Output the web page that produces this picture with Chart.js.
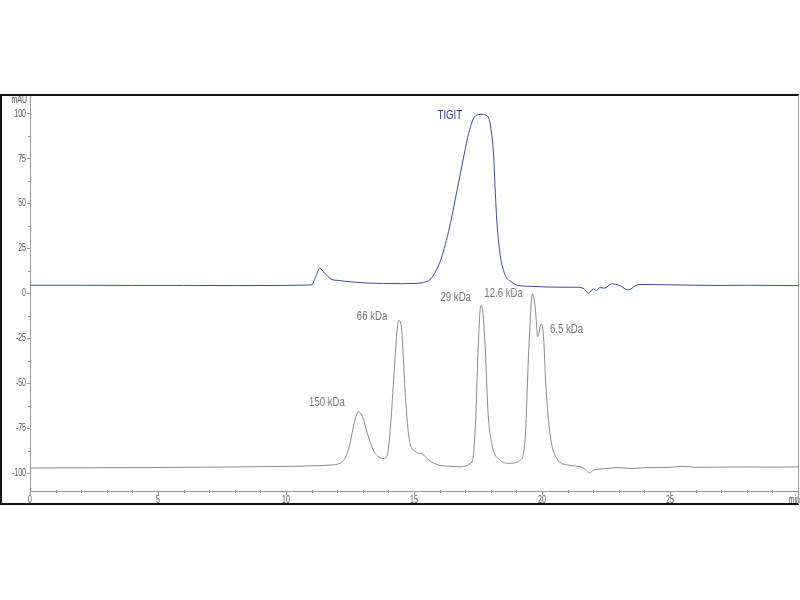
<!DOCTYPE html>
<html>
<head>
<meta charset="utf-8">
<script src="https://cdn.jsdelivr.net/npm/chart.js@4/dist/chart.umd.min.js"></script>
<style>
  body { margin: 0; background: #fff; }
  #wrap { width: 800px; height: 600px; }
</style>
</head>
<body>
<div id="wrap"><canvas id="chart" width="800" height="600"></canvas></div>
<script>
// retention time (min) and absorbance (mAU)
const tigitTimes = [0, 2, 4, 6, 8, 10, 10.8, 11.0, 11.15, 11.32, 11.5, 11.75, 12.08, 12.6, 13.2, 13.8, 14.5, 15.0, 15.32, 15.71, 16.10, 16.43, 16.69, 16.95, 17.14, 17.40, 17.66, 17.86, 17.99, 18.11, 18.17, 18.24, 18.37, 18.57, 18.8, 19.09, 19.6, 20.2, 20.8, 21.3, 21.6, 21.82, 22.0, 22.13, 22.26, 22.45, 22.72, 23.04, 23.37, 23.76, 24.1, 25, 26, 27, 28, 29, 30];
const tigitValues = [4.6, 4.6, 4.5, 4.5, 4.4, 4.5, 4.7, 4.8, 9, 14, 11.5, 8.1, 7.2, 6.4, 5.8, 5.6, 5.5, 5.6, 6, 9.1, 21.1, 39.6, 58.1, 76.7, 89.6, 98.9, 99.8, 98.9, 93.3, 76.7, 58.3, 39.6, 21.1, 10, 6.5, 4.4, 4.0, 3.6, 3.5, 3.5, 3, 0.2, 2.6, 1.7, 3.3, 3.0, 5.4, 4.4, 2, 5, 5, 4.8, 4.6, 4.5, 4.6, 4.5, 4.4];

const markerTimes = [0, 2, 4, 6, 8, 10, 11, 11.69, 12.2, 12.47, 12.66, 12.83, 12.99, 13.18, 13.44, 13.83, 13.96, 14.09, 14.22, 14.35, 14.41, 14.52, 14.65, 14.80, 15.06, 15.32, 15.58, 15.97, 16.4, 16.75, 17.27, 17.40, 17.50, 17.61, 17.69, 17.79, 17.89, 18.05, 18.37, 18.70, 19.15, 19.35, 19.48, 19.63, 19.74, 19.83, 19.97, 20.06, 20.15, 20.32, 20.58, 21.04, 21.5, 21.7, 21.85, 22.0, 22.5, 23, 23.5, 24, 25, 25.5, 26, 27, 28, 29, 30];
const markerValues = [-97.2, -97.1, -97, -96.8, -96.6, -96.3, -96, -95.6, -93.7, -85.4, -72.4, -65.9, -68.7, -78, -88, -91.9, -90, -72.4, -44.6, -18.7, -15, -20.6, -53.9, -79.8, -88.1, -89.4, -92.8, -95.6, -96.2, -96.5, -93.7, -73.3, -32.6, -6.7, -10.4, -32.6, -65.9, -84.4, -92.8, -94.6, -92.8, -78.9, -32.6, -0.2, -8.5, -24, -17, -24, -51.1, -78.9, -91.9, -95.6, -96.5, -98, -100, -98.5, -97.5, -97, -97.5, -97, -96.8, -96.3, -96.8, -96.7, -96.6, -96.7, -96.6];

const yTicks = [-100, -75, -50, -25, 0, 25, 50, 75, 100];
const xTicks = [0, 5, 10, 15, 20, 25];

// peak labels: text, label centre in (min, mAU)
const labelTexts = ['TIGIT', '150 kDa', '66 kDa', '29 kDa', '12.6 kDa', '6.5 kDa'];
const labelTimes = [16.4, 11.6, 13.36, 16.63, 18.5, 20.96];
const labelValues = [99, -60.5, -12.8, -2.2, 0, -20];

const axisGray = '#9a9a9a';

function toPoints(xs, ys) {
    return xs.map((x, i) => ({ x: x, y: ys[i] }));
}

// narrow text, like the condensed font of the instrument software
function narrowText(ctx, txt, x, y, align, squeeze) {
    ctx.save();
    ctx.translate(x, y);
    ctx.scale(squeeze, 1);
    ctx.textAlign = align;
    ctx.fillText(txt, 0, 0);
    ctx.restore();
}

const decorPlugin = {
    id: 'decor',
    afterDraw(chart) {
        const ctx = chart.ctx;
        const xs = chart.scales.x;
        const ys = chart.scales.y;
        const area = chart.chartArea;
        ctx.save();

        // minor ticks
        ctx.strokeStyle = axisGray;
        ctx.lineWidth = 1;
        for (let t = 1; t < 30; t++) {
            if (t % 5 === 0) continue;
            const px = Math.round(xs.getPixelForValue(t)) + 0.5;
            ctx.beginPath();
            ctx.moveTo(px, area.bottom - 1);
            ctx.lineTo(px, area.bottom + 2);
            ctx.stroke();
        }
        for (let v = -100; v <= 100; v += 12.5) {
            if (v % 25 === 0) continue;
            const py = Math.round(ys.getPixelForValue(v)) + 0.5;
            ctx.beginPath();
            ctx.moveTo(area.left - 2, py);
            ctx.lineTo(area.left + 1, py);
            ctx.stroke();
        }

        // tick labels
        ctx.fillStyle = '#555';
        ctx.font = '10px "Liberation Sans"';
        ctx.textBaseline = 'middle';
        yTicks.forEach(v => {
            narrowText(ctx, String(v), area.left - 4, ys.getPixelForValue(v), 'right', 0.7);
        });
        xTicks.forEach(t => {
            narrowText(ctx, String(t), xs.getPixelForValue(t), area.bottom + 9, 'center', 0.7);
        });
        narrowText(ctx, 'mAU', area.left - 3, 100, 'right', 0.7);
        narrowText(ctx, 'min', 800, area.bottom + 9, 'right', 0.7);

        // peak labels
        ctx.font = '13px "Liberation Sans"';
        labelTexts.forEach((txt, i) => {
            ctx.fillStyle = i === 0 ? '#2e3d8f' : '#777';
            narrowText(ctx, txt, xs.getPixelForValue(labelTimes[i]), ys.getPixelForValue(labelValues[i]), 'center', 0.74);
        });

        // outer frame
        ctx.strokeStyle = '#111';
        ctx.lineWidth = 2;
        ctx.beginPath();
        ctx.moveTo(799, 95);
        ctx.lineTo(1, 95);
        ctx.lineTo(1, 504);
        ctx.lineTo(799, 504);
        ctx.stroke();
        ctx.strokeStyle = axisGray;
        ctx.lineWidth = 1;
        ctx.beginPath();
        ctx.moveTo(798.5, 95);
        ctx.lineTo(798.5, 504);
        ctx.stroke();
        ctx.restore();
    }
};

new Chart(document.getElementById('chart').getContext('2d'), {
    type: 'line',
    data: {
        datasets: [
            {
                label: 'TIGIT',
                data: toPoints(tigitTimes, tigitValues),
                borderColor: '#3b4b9b',
                borderWidth: 1,
                pointRadius: 0,
                cubicInterpolationMode: 'monotone'
            },
            {
                label: 'Markers',
                data: toPoints(markerTimes, markerValues),
                borderColor: '#8a8a8a',
                borderWidth: 1,
                pointRadius: 0,
                cubicInterpolationMode: 'monotone'
            }
        ]
    },
    options: {
        responsive: false,
        animation: false,
        layout: { padding: { top: 96, right: 2, bottom: 89, left: 0 } },
        plugins: {
            legend: { display: false },
            tooltip: { enabled: false }
        },
        scales: {
            x: {
                type: 'linear',
                min: 0,
                max: 30,
                afterBuildTicks: (scale) => { scale.ticks = xTicks.map(v => ({ value: v })); },
                afterFit: (scale) => { scale.height = 20; },
                grid: { drawOnChartArea: false, drawTicks: true, tickLength: 4, color: axisGray },
                border: { color: axisGray },
                ticks: { color: 'rgba(0,0,0,0)', padding: 0, maxRotation: 0, font: { family: 'Liberation Sans', size: 8 } }
            },
            y: {
                min: -110,
                max: 110,
                afterBuildTicks: (scale) => { scale.ticks = yTicks.map(v => ({ value: v })); },
                afterFit: (scale) => { scale.width = 30; },
                grid: { drawOnChartArea: false, drawTicks: true, tickLength: 3, color: axisGray },
                border: { color: axisGray },
                ticks: { color: 'rgba(0,0,0,0)', padding: 2, font: { family: 'Liberation Sans', size: 8 } }
            }
        }
    },
    plugins: [decorPlugin]
});
</script>
</body>
</html>
